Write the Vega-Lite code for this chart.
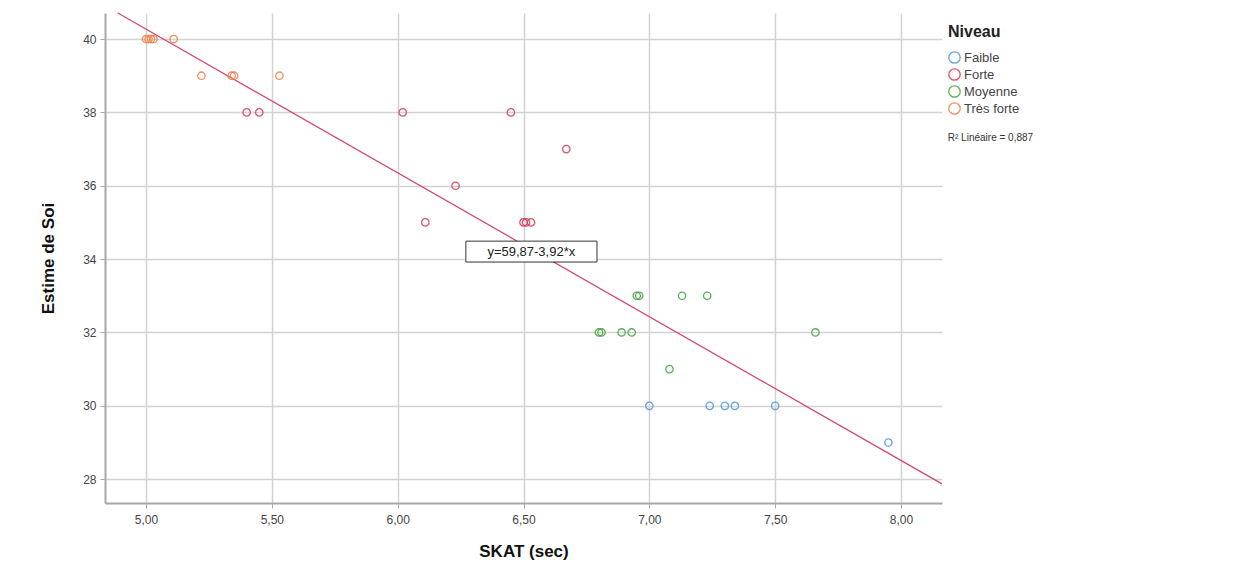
{
  "$schema": "https://vega.github.io/schema/vega-lite/v6.json",
  "width": 837,
  "height": 490,
  "autosize": "none",
  "padding": {"left": 105, "top": 13, "right": 314, "bottom": 71},
  "background": "white",
  "config": {
    "font": "Liberation Sans",
    "view": {"stroke": null},
    "axis": {
      "gridColor": "#d2d2d2",
      "gridWidth": 1.5,
      "domainColor": "#a8a8a8",
      "domainWidth": 2,
      "tickColor": "#a8a8a8",
      "tickSize": 5,
      "labelColor": "#444444",
      "labelFontSize": 12,
      "titleColor": "#111111",
      "titleFontSize": 17,
      "titleFontWeight": "bold"
    }
  },
  "datasets": {
    "points": [
      {"Niveau": "Très forte", "SKAT": 5.00, "Estime": 40},
      {"Niveau": "Très forte", "SKAT": 5.01, "Estime": 40},
      {"Niveau": "Très forte", "SKAT": 5.02, "Estime": 40},
      {"Niveau": "Très forte", "SKAT": 5.03, "Estime": 40},
      {"Niveau": "Très forte", "SKAT": 5.11, "Estime": 40},
      {"Niveau": "Très forte", "SKAT": 5.22, "Estime": 39},
      {"Niveau": "Très forte", "SKAT": 5.34, "Estime": 39},
      {"Niveau": "Très forte", "SKAT": 5.35, "Estime": 39},
      {"Niveau": "Très forte", "SKAT": 5.53, "Estime": 39},
      {"Niveau": "Forte", "SKAT": 5.40, "Estime": 38},
      {"Niveau": "Forte", "SKAT": 5.45, "Estime": 38},
      {"Niveau": "Forte", "SKAT": 6.02, "Estime": 38},
      {"Niveau": "Forte", "SKAT": 6.45, "Estime": 38},
      {"Niveau": "Forte", "SKAT": 6.67, "Estime": 37},
      {"Niveau": "Forte", "SKAT": 6.23, "Estime": 36},
      {"Niveau": "Forte", "SKAT": 6.11, "Estime": 35},
      {"Niveau": "Forte", "SKAT": 6.50, "Estime": 35},
      {"Niveau": "Forte", "SKAT": 6.51, "Estime": 35},
      {"Niveau": "Forte", "SKAT": 6.53, "Estime": 35},
      {"Niveau": "Moyenne", "SKAT": 6.95, "Estime": 33},
      {"Niveau": "Moyenne", "SKAT": 6.96, "Estime": 33},
      {"Niveau": "Moyenne", "SKAT": 7.13, "Estime": 33},
      {"Niveau": "Moyenne", "SKAT": 7.23, "Estime": 33},
      {"Niveau": "Moyenne", "SKAT": 6.80, "Estime": 32},
      {"Niveau": "Moyenne", "SKAT": 6.81, "Estime": 32},
      {"Niveau": "Moyenne", "SKAT": 6.89, "Estime": 32},
      {"Niveau": "Moyenne", "SKAT": 6.93, "Estime": 32},
      {"Niveau": "Moyenne", "SKAT": 7.66, "Estime": 32},
      {"Niveau": "Moyenne", "SKAT": 7.08, "Estime": 31},
      {"Niveau": "Faible", "SKAT": 7.00, "Estime": 30},
      {"Niveau": "Faible", "SKAT": 7.24, "Estime": 30},
      {"Niveau": "Faible", "SKAT": 7.30, "Estime": 30},
      {"Niveau": "Faible", "SKAT": 7.34, "Estime": 30},
      {"Niveau": "Faible", "SKAT": 7.50, "Estime": 30},
      {"Niveau": "Faible", "SKAT": 7.95, "Estime": 29}
    ],
    "fit": [
      {"SKAT": 4.888, "Estime": 40.71},
      {"SKAT": 8.163, "Estime": 27.87}
    ],
    "box": [
      {"x1": 6.271, "x2": 6.792, "y1": 34.49, "y2": 33.92, "xc": 6.531, "yc": 34.2, "label": "y=59,87-3,92*x"}
    ],
    "r2": [
      {"SKAT": 8.186, "Estime": 37.3, "label": "R² Linéaire = 0,887"}
    ]
  },
  "layer": [
    {
      "data": {"name": "fit"},
      "mark": {"type": "line", "color": "#d4467a", "strokeWidth": 1.3},
      "encoding": {
        "x": {"field": "SKAT", "type": "quantitative", "scale": {"domain": [4.837, 8.163], "nice": false, "zero": false},
          "axis": {"values": [5, 5.5, 6, 6.5, 7, 7.5, 8], "labelExpr": "replace(format(datum.value, '.2f'), '.', ',')", "title": "SKAT (sec)", "titlePadding": 18, "labelPadding": 6}},
        "y": {"field": "Estime", "type": "quantitative", "scale": {"domain": [27.35, 40.71], "nice": false, "zero": false},
          "axis": {"values": [28, 30, 32, 34, 36, 38, 40], "title": "Estime de Soi", "titlePadding": 25, "labelPadding": 4}}
      }
    },
    {
      "data": {"name": "points"},
      "mark": {"type": "point", "shape": "circle", "filled": false, "size": 55, "strokeWidth": 1.3, "opacity": 0.9},
      "encoding": {
        "x": {"field": "SKAT", "type": "quantitative"},
        "y": {"field": "Estime", "type": "quantitative"},
        "color": {
          "field": "Niveau", "type": "nominal",
          "scale": {"domain": ["Faible", "Forte", "Moyenne", "Très forte"], "range": ["#5b9bd5", "#d8405e", "#4aa84a", "#f08450"]},
          "legend": {
            "orient": "none", "legendX": 843, "legendY": 11,
            "title": "Niveau", "titleFontSize": 16, "titleFontWeight": "bold", "titleColor": "#222222", "titlePadding": 11,
            "labelFontSize": 13, "labelColor": "#444444", "symbolSize": 130, "symbolStrokeWidth": 1.3, "symbolType": "circle", "symbolFillColor": "transparent", "rowPadding": 0, "labelOffset": 3
          }
        }
      }
    },
    {
      "data": {"name": "box"},
      "mark": {"type": "rect", "fill": "white", "stroke": "#333333", "strokeWidth": 1},
      "encoding": {
        "x": {"field": "x1", "type": "quantitative"},
        "x2": {"field": "x2"},
        "y": {"field": "y1", "type": "quantitative"},
        "y2": {"field": "y2"}
      }
    },
    {
      "data": {"name": "box"},
      "mark": {"type": "text", "fontSize": 13, "color": "#222222", "align": "center", "baseline": "middle"},
      "encoding": {
        "x": {"field": "xc", "type": "quantitative"},
        "y": {"field": "yc", "type": "quantitative"},
        "text": {"field": "label"}
      }
    },
    {
      "data": {"name": "r2"},
      "mark": {"type": "text", "fontSize": 10, "color": "#333333", "align": "left", "baseline": "middle"},
      "encoding": {
        "x": {"field": "SKAT", "type": "quantitative"},
        "y": {"field": "Estime", "type": "quantitative"},
        "text": {"field": "label"}
      }
    }
  ]
}
